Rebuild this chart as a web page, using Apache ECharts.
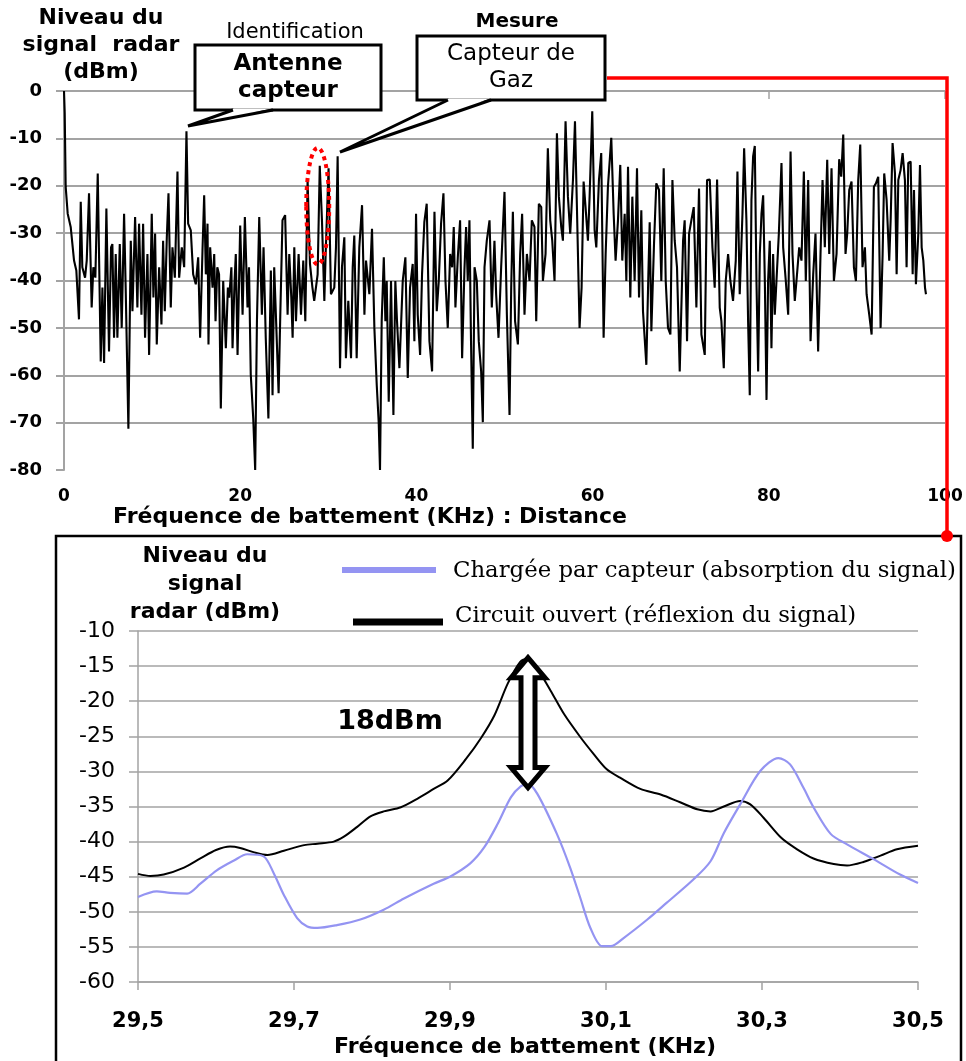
<!DOCTYPE html>
<html><head><meta charset="utf-8">
<script src="https://cdn.jsdelivr.net/npm/echarts@6/dist/echarts.min.js"></script>
<style>html,body{margin:0;padding:0;background:#fff}#c{width:966px;height:1061px}</style>
</head><body><div id="c"></div>
<script>
// ---------- Top spectrum (kHz, dBm) ----------
const topFreq = [
0,0.08,0.19,0.42,0.76,1.14,1.4,1.7,1.9,2.08,2.39,2.58,2.84,3.14,3.33,3.56,3.83,4.17,4.36,4.55,4.81,5.11,5.34,5.49,5.68,5.87,6.06,6.33,6.55,6.82,
7.0,7.31,7.58,7.77,8.07,8.33,8.52,8.79,8.98,9.2,9.47,9.66,9.96,10.15,10.34,10.53,10.8,11.06,11.25,11.44,11.67,11.86,12.12,12.31,12.58,12.88,13.07,13.37,13.64,13.9,
14.09,14.39,14.66,14.96,15.23,15.45,15.72,15.91,16.1,16.29,16.4,16.59,16.86,17.05,17.2,17.4,17.6,17.8,18.07,18.37,18.6,18.75,19.0,19.13,19.36,19.5,19.7,20.0,20.27,20.53,
20.83,21.0,21.2,21.48,21.7,21.9,22.16,22.46,22.65,22.9,23.2,23.48,23.67,23.86,24.05,24.36,24.55,24.8,25.1,25.38,25.57,25.8,25.95,26.14,26.33,26.63,26.9,27.16,27.39,27.65,
27.92,28.2,28.4,28.79,29.03,29.28,29.55,29.7,30.03,30.3,30.68,30.87,31.06,31.33,31.55,31.82,32.0,32.27,32.58,32.77,32.95,33.22,33.52,33.83,34.1,34.28,34.66,34.96,35.23,35.5,
35.72,35.87,36.06,36.3,36.48,36.63,36.86,37.12,37.39,37.61,37.8,38.07,38.45,38.75,39.02,39.28,39.58,39.77,39.96,40.15,40.42,40.64,40.9,41.17,41.48,41.78,42.05,42.31,42.54,42.8,
43.07,43.3,43.56,43.83,44.06,44.24,44.43,44.7,44.96,45.19,45.45,45.64,45.83,46.02,46.2,46.4,46.6,46.86,47.08,47.35,47.54,47.73,47.99,48.3,48.56,48.86,49.05,49.32,49.62,50.0,
50.27,50.57,50.76,50.95,51.2,51.52,51.78,52.0,52.27,52.54,52.84,53.1,53.4,53.6,53.9,54.17,54.36,54.66,54.92,55.19,55.42,55.68,55.95,56.17,56.44,56.63,56.93,57.2,57.46,57.77,
58.0,58.22,58.52,58.75,58.98,59.2,59.47,59.66,59.96,60.23,60.42,60.72,60.98,61.25,61.48,61.74,62.12,62.39,62.61,62.88,63.14,63.37,63.64,63.83,64.02,64.28,64.51,64.77,65.04,65.27,
65.53,65.72,66.1,66.33,66.48,66.67,66.97,67.23,67.54,67.8,68.07,68.3,68.56,68.83,69.06,69.32,69.58,69.89,70.08,70.27,70.45,70.72,70.95,71.21,71.48,71.78,72.08,72.35,72.73,72.99,
73.3,73.6,73.86,74.13,74.43,74.62,74.89,75.11,75.38,75.64,75.94,76.25,76.44,76.7,77.01,77.2,77.46,77.65,77.84,78.03,78.22,78.41,78.6,78.79,78.98,79.17,79.36,79.55,79.74,79.92,
80.11,80.3,80.49,80.68,80.87,81.14,81.44,81.63,81.93,82.2,82.47,82.69,82.95,83.14,83.45,83.71,83.98,84.2,84.47,84.74,85.04,85.3,85.6,85.87,86.1,86.36,86.63,86.86,87.12,87.39,
87.69,87.99,88.22,88.45,88.71,88.9,89.13,89.39,89.66,89.89,90.15,90.38,90.64,90.91,91.1,91.4,91.67,91.93,92.16,92.42,92.69,92.92,93.1,93.37,93.67,93.83,94.05,94.32,94.51,94.7,
94.96,95.19,95.45,95.64,95.83,96.1,96.33,96.48,96.7,96.97,97.16,97.35,97.54,97.73,97.84
];
const topLevel = [
0,-4.6,-20.2,-25.9,-28.7,-35.8,-37.9,-48.2,-23.4,-37.2,-39.4,-35.8,-21.6,-45.7,-37.2,-39.4,-17.4,-57.1,-41.5,-57.4,-24.8,-55,-33,-32.3,-52.1,-34.4,-52.1,-32.3,-50,-25.9,
-41.5,-71.3,-31.6,-46.5,-26.6,-45.7,-28,-47.2,-28,-52.1,-34.4,-55.7,-25.9,-43.6,-30.1,-53.5,-37.2,-49.3,-31.6,-46.5,-30.9,-21.6,-45.7,-33,-39.4,-17,-39.4,-33,-37.2,-8.5,
-28,-29.4,-38.7,-40.8,-35.1,-52.1,-33.7,-22,-38.7,-28,-53.5,-33,-41.5,-34.4,-48.6,-37.2,-38.7,-67,-40.1,-54.3,-41.5,-43.6,-37.2,-54.3,-40.1,-34.4,-55.7,-28.4,-47.2,-26.6,
-45.7,-37.2,-59.9,-69.1,-80,-48.6,-26.6,-47.2,-33,-52.1,-69.1,-37.9,-64.2,-37.2,-47.2,-63.8,-47.2,-27.3,-26.2,-47.2,-34.4,-43.6,-52.1,-33,-48.6,-34.4,-47.2,-35.8,-48.6,-18.8,
-36.5,-41.5,-44.3,-38.7,-15.8,-27.3,-44.3,-34.4,-16.3,-42.9,-41.5,-33,-13.8,-58.5,-37.2,-30.9,-56.4,-44.3,-56.4,-37.2,-30.5,-56.4,-33,-24.1,-47.2,-35.8,-42.9,-29.1,-50,-62.1,
-69.9,-80,-48.6,-35.1,-48.6,-40.1,-65.6,-40.1,-68.4,-40.1,-48.6,-58.5,-40.1,-35.1,-60.6,-41.5,-36.5,-52.8,-25.9,-47.2,-55.7,-38.7,-27.7,-23.8,-52.8,-59.2,-25.5,-46.5,-40.1,-28,
-21.6,-40.1,-50,-34.4,-37.2,-28.7,-45.7,-35.1,-27.3,-56.4,-37.9,-28.7,-40.1,-27.3,-52.8,-75.5,-37.2,-40.1,-52.8,-59.2,-69.9,-37.2,-31.6,-27.3,-45.7,-31.6,-42.9,-52.1,-37.2,-21.3,
-47.2,-68.4,-41.5,-25.5,-48.6,-53.5,-34.4,-25.9,-47.2,-34.4,-40.1,-27.3,-28.7,-48.6,-23.8,-24.5,-40.1,-34.4,-12.1,-27.3,-31.6,-40.1,-8.9,-22.3,-28.7,-31.6,-6.4,-22.3,-30.1,-18.8,
-6.4,-24.5,-50,-41.5,-19.1,-24.5,-31.6,-22.3,-4.3,-29.4,-33,-18.8,-13.1,-52.1,-34.4,-20.2,-9.9,-25.9,-35.8,-27.3,-15.6,-35.8,-25.9,-40.1,-16,-43.6,-22.3,-40.1,-16.3,-43.6,
-25.2,-46.5,-57.8,-38.7,-27.7,-50.7,-32.3,-19.5,-20.9,-40.1,-16.3,-40.1,-50,-51.4,-18.8,-31.6,-37.2,-59.2,-59.2,-31.6,-27.3,-52.8,-30.1,-27.3,-24.5,-45.7,-20.6,-51.4,-55.7,-18.8,
-18.7,-33,-41.5,-18.7,-45.7,-48.6,-58.5,-40.1,-34.4,-40.1,-44.3,-35.8,-17,-42.9,-25.9,-12.1,-27.3,-48.6,-64.2,-23,-13.8,-11.6,-40.1,-59.2,-34.4,-25.9,-22,-40.1,-65.2,-40.1,
-31.6,-54.3,-34.4,-47.2,-40.1,-30.1,-15.2,-33,-40.1,-47.2,-12.8,-34.4,-44.3,-40.1,-33,-35.8,-17,-40.1,-18.8,-52.8,-38.7,-30.1,-55,-34.4,-18.8,-33,-14.5,-34.4,-16.3,-40.1,
-34.4,-14.4,-18.1,-9.2,-34.4,-30.1,-20.9,-19.1,-37.2,-40.1,-18.8,-11.3,-37.2,-33,-42.9,-47.2,-51.4,-20.2,-19.5,-18.1,-50,-34.4,-17.4,-23,-35.8,-27.3,-11,-17.4,-38.7,-18.8,
-16.7,-13.1,-18.8,-37.2,-15.2,-14.9,-38.7,-20.9,-40.8,-30.1,-15.6,-33,-35.8,-41.5,-42.9
];
const topXTicks = [0, 20, 40, 60, 80, 100];

// ---------- Bottom zoom (29.5 - 30.5 kHz) ----------
const openFreq = [29.5,29.516,29.533,29.559,29.58,29.6,29.618,29.631,29.648,29.666,29.687,29.713,29.73,29.751,29.764,29.781,29.798,29.815,29.837,29.858,29.879,29.897,29.92,29.94,29.957,29.974,29.99,30.0,30.012,30.029,30.046,30.067,30.084,30.101,30.118,30.144,30.17,30.195,30.217,30.234,30.251,30.272,30.285,30.302,30.325,30.345,30.366,30.392,30.409,30.43,30.452,30.473,30.5];
const openLevel = [-44.6,-44.9,-44.7,-43.7,-42.4,-41.2,-40.7,-40.9,-41.5,-41.9,-41.3,-40.5,-40.3,-40,-39.3,-37.9,-36.4,-35.7,-35.1,-33.9,-32.5,-31.3,-28.3,-25.2,-22,-17.5,-14.4,-14,-15.4,-18.5,-21.8,-25.1,-27.5,-29.7,-30.9,-32.5,-33.3,-34.4,-35.4,-35.7,-35,-34.2,-34.7,-36.6,-39.5,-41.1,-42.4,-43.2,-43.4,-42.9,-42,-41.1,-40.6];
const loadFreq = [29.5,29.524,29.541,29.563,29.58,29.601,29.623,29.64,29.661,29.674,29.687,29.704,29.717,29.73,29.755,29.785,29.815,29.841,29.879,29.9,29.926,29.944,29.961,29.978,29.991,30.0,30.012,30.037,30.054,30.067,30.08,30.095,30.106,30.123,30.153,30.178,30.212,30.234,30.251,30.272,30.298,30.321,30.336,30.353,30.366,30.388,30.409,30.443,30.477,30.5];
const loadLevel = [-47.9,-47.1,-47.3,-47.4,-46,-44.1,-42.7,-41.8,-42.1,-44.5,-47.6,-50.9,-52.1,-52.3,-51.9,-51.1,-49.7,-48.1,-46,-45,-43.1,-40.8,-37.5,-33.7,-32.1,-31.8,-33.2,-38.9,-43.7,-48,-52.3,-54.9,-54.9,-53.7,-51.1,-48.7,-45.4,-42.8,-38.8,-34.7,-29.9,-28.1,-29,-32.3,-35.1,-38.9,-40.4,-42.5,-44.7,-45.9];
const legendNames = ['Chargée par capteur (absorption du signal)', 'Circuit ouvert (réflexion du signal)'];
const peakFreq = 30.0, peakOpen = -13.8, peakLoad = -32.3;

const SANS = '"DejaVu Sans"';
const SERIF = '"DejaVu Serif"';
const GRID = '#a3a3a3';
const BLUE = '#9494f2';

const chart = echarts.init(document.getElementById('c'), null, {renderer: 'canvas'});
const zip = (a, b) => a.map((v, i) => [v, b[i]]);

chart.setOption({
  animation: false,
  backgroundColor: '#fff',
  grid: [
    {left: 64, right: 21, top: 91, bottom: 591},
    {left: 138, right: 48, top: 631, bottom: 79}
  ],
  xAxis: [
    {type: 'value', gridIndex: 0, min: 0, max: 100, interval: 20,
     axisLine: {show: false},
     axisTick: {show: true, length: 8, lineStyle: {color: GRID, width: 1.5}},
     axisLabel: {margin: 18, color: '#000', fontFamily: SANS, fontWeight: 'bold', fontSize: 17},
     splitLine: {show: false}},
    {type: 'value', gridIndex: 1, min: 29.5, max: 30.5, interval: 0.2,
     axisLine: {show: true, lineStyle: {color: GRID, width: 1.5}},
     axisTick: {show: true, length: 8, lineStyle: {color: GRID, width: 1.5}},
     axisLabel: {margin: 29, color: '#000', fontFamily: SANS, fontWeight: 'bold', fontSize: 21,
       formatter: v => v.toFixed(1).replace('.', ',')},
     splitLine: {show: false}}
  ],
  yAxis: [
    {type: 'value', gridIndex: 0, min: -80, max: 0, interval: 10,
     axisLine: {show: true, lineStyle: {color: GRID, width: 2}},
     axisTick: {show: true, length: 8, lineStyle: {color: GRID, width: 2}},
     axisLabel: {margin: 22, color: '#000', fontFamily: SANS, fontWeight: 'bold', fontSize: 18},
     splitLine: {show: true, showMinLine: false, lineStyle: {color: GRID, width: 2}}},
    {type: 'value', gridIndex: 1, min: -60, max: -10, interval: 5,
     axisLine: {show: true, lineStyle: {color: GRID, width: 1.5}},
     axisTick: {show: true, length: 9, lineStyle: {color: GRID, width: 1.5}},
     axisLabel: {margin: 23, color: '#000', fontFamily: SANS, fontSize: 22},
     splitLine: {show: true, lineStyle: {color: GRID, width: 1.5}}}
  ],
  series: [
    {type: 'line', xAxisIndex: 0, yAxisIndex: 0, showSymbol: false, data: zip(topFreq, topLevel),
     lineStyle: {color: '#000', width: 2.1}, itemStyle: {color: '#000'}},
    {type: 'line', name: legendNames[1], xAxisIndex: 1, yAxisIndex: 1, showSymbol: false, smooth: 0.3,
     data: zip(openFreq, openLevel), lineStyle: {color: '#000', width: 2}, itemStyle: {color: '#000'}},
    {type: 'line', name: legendNames[0], xAxisIndex: 1, yAxisIndex: 1, showSymbol: false, smooth: 0.3,
     data: zip(loadFreq, loadLevel), lineStyle: {color: BLUE, width: 2.2}, itemStyle: {color: BLUE}}
  ]
});

// annotations positioned from the axes
const pTop = chart.convertToPixel({xAxisIndex: 1, yAxisIndex: 1}, [peakFreq, peakOpen]);
const pBot = chart.convertToPixel({xAxisIndex: 1, yAxisIndex: 1}, [peakFreq, peakLoad]);
const eC = chart.convertToPixel({xAxisIndex: 0, yAxisIndex: 0}, [28.8, -24.3]);
const eT = chart.convertToPixel({xAxisIndex: 0, yAxisIndex: 0}, [28.8, -12]);
const ax = pTop[0], y1 = pTop[1], y2 = pBot[1];
const hw = 17, sw = 7, hh = 20;
const arrowPts = [[ax, y1], [ax + hw, y1 + hh], [ax + sw, y1 + hh], [ax + sw, y2 - hh], [ax + hw, y2 - hh], [ax, y2],
                  [ax - hw, y2 - hh], [ax - sw, y2 - hh], [ax - sw, y1 + hh], [ax - hw, y1 + hh]];

const txt = (x, y, text, font, extra) => Object.assign({type: 'text', x, y, z: 50,
  style: Object.assign({text, font, fill: '#000', align: 'center', verticalAlign: 'middle'}, extra || {})});

chart.setOption({
  graphic: [
    {type: 'rect', z: 1, shape: {x: 56, y: 536, width: 905, height: 540}, style: {fill: 'none', stroke: '#000', lineWidth: 2.5}},
    txt(101, 45, 'Niveau du\nsignal  radar\n(dBm)', 'bold 22px ' + SANS, {lineHeight: 27}),
    txt(370, 517, 'Fréquence de battement (KHz) : Distance', 'bold 22px ' + SANS),
    txt(295, 33, 'Identification', '21px ' + SANS),
    txt(517, 22, 'Mesure', 'bold 20px ' + SANS),
    {type: 'rect', z: 40, shape: {x: 195, y: 45, width: 186, height: 65}, style: {fill: '#fff', stroke: '#000', lineWidth: 3}},
    {type: 'polygon', z: 41, shape: {points: [[234, 108.5], [272, 108.5], [188, 126]]}, style: {fill: '#fff'}},
    {type: 'polyline', z: 42, shape: {points: [[233, 110], [188, 126], [273, 110]]}, style: {stroke: '#000', lineWidth: 3, fill: null}},
    txt(288, 78, 'Antenne\ncapteur', 'bold 23px ' + SANS, {lineHeight: 27}),
    {type: 'rect', z: 40, shape: {x: 417, y: 36, width: 188, height: 64}, style: {fill: '#fff', stroke: '#000', lineWidth: 3}},
    {type: 'polygon', z: 41, shape: {points: [[449, 98.5], [490, 98.5], [340, 152]]}, style: {fill: '#fff'}},
    {type: 'polyline', z: 42, shape: {points: [[448, 100], [340, 152], [491, 100]]}, style: {stroke: '#000', lineWidth: 3, fill: null}},
    txt(511, 68, 'Capteur de\nGaz', '23px ' + SANS, {lineHeight: 27}),
    {type: 'polyline', z: 45, shape: {points: [[607, 78], [947, 78], [947, 536]]}, style: {stroke: '#ff0000', lineWidth: 3.5, fill: null}},
    {type: 'circle', z: 46, shape: {cx: 947, cy: 536, r: 6}, style: {fill: '#ff0000'}},
    {type: 'ellipse', z: 45, shape: {cx: eC[0], cy: eC[1], rx: 11.5, ry: eC[1] - eT[1]},
     style: {fill: 'none', stroke: '#ff0000', lineWidth: 4, lineDash: [4, 4]}},
    txt(205, 584, 'Niveau du\nsignal\nradar (dBm)', 'bold 22px ' + SANS, {lineHeight: 28}),
    txt(525, 1047, 'Fréquence de battement (KHz)', 'bold 22px ' + SANS),
    txt(390, 722, '18dBm', 'bold 27px ' + SANS),
    {type: 'line', z: 50, shape: {x1: 342, y1: 570, x2: 436, y2: 570}, style: {stroke: BLUE, lineWidth: 6}},
    txt(453, 571, legendNames[0], '22.8px ' + SERIF, {align: 'left'}),
    {type: 'line', z: 50, shape: {x1: 353, y1: 622, x2: 443, y2: 622}, style: {stroke: '#000', lineWidth: 7}},
    txt(455, 616, legendNames[1], '22.8px ' + SERIF, {align: 'left'}),
    {type: 'polygon', z: 60, shape: {points: arrowPts}, style: {fill: '#fff', stroke: '#000', lineWidth: 5, lineJoin: 'miter'}}
  ]
});
</script>
</body></html>
